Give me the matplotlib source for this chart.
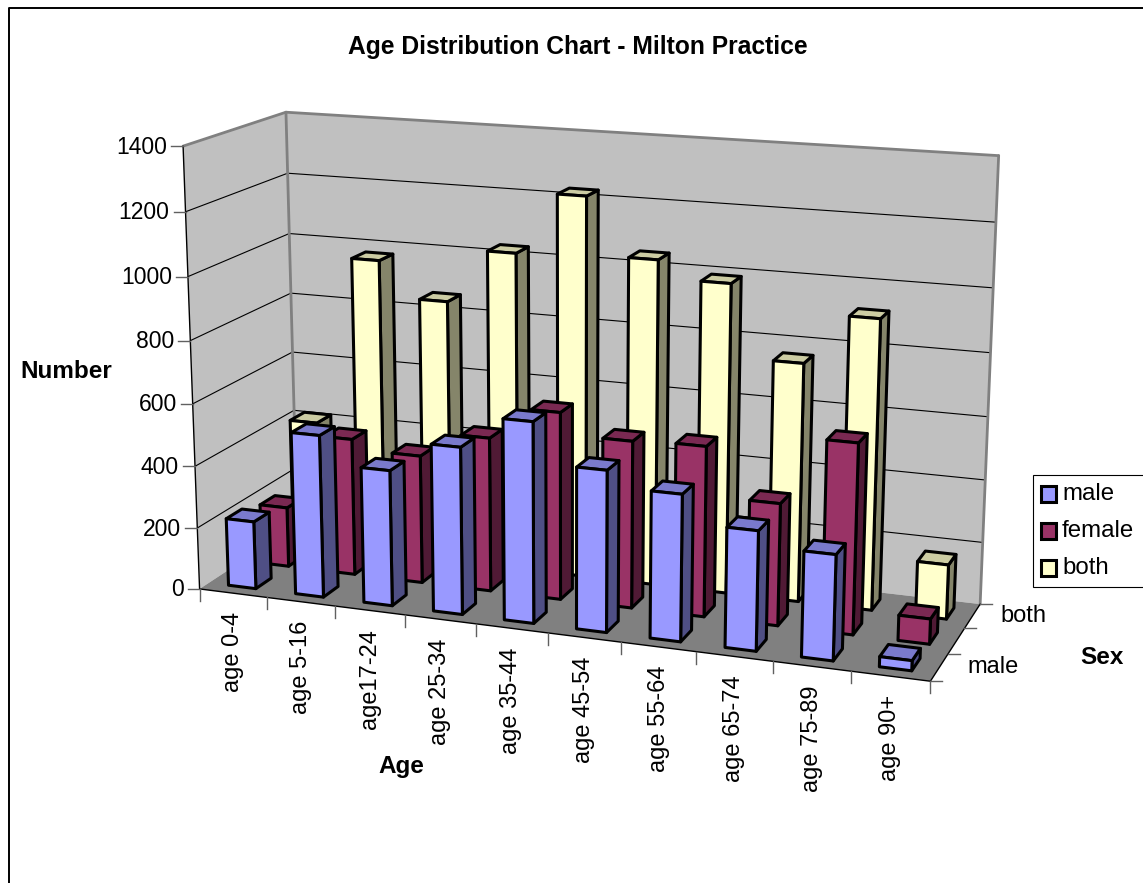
import numpy as np
import matplotlib
matplotlib.use('Agg')
import matplotlib.pyplot as plt
from matplotlib.patches import Polygon, Rectangle

plt.rcParams['font.family'] = ['Liberation Sans', 'DejaVu Sans']

ages = ['age 0-4', 'age 5-16', 'age17-24', 'age 25-34', 'age 35-44',
        'age 45-54', 'age 55-64', 'age 65-74', 'age 75-89', 'age 90+']
male = [219, 521, 433, 530, 632, 506, 457, 371, 325, 31]
female = [196, 446, 415, 496, 600, 532, 539, 385, 596, 79]
both = [416, 973, 858, 1031, 1227, 1045, 989, 760, 918, 173]
rows = ['male', 'female', 'both']
y_ticks = [0, 200, 400, 600, 800, 1000, 1200, 1400]

series = [male, female, both]
# front, side, top
colors = [('#9999FF', '#4F4F85', '#7A7ACC'),
          ('#993366', '#501A35', '#7A2952'),
          ('#FFFFCC', '#85856A', '#CCCCA3')]
y_max = 1400
bar_w = 0.41
bar_d = 0.46

# box corners (x, depth, height in 0-1) and where they land in the picture
box_3d = [(0, 0, 0), (1, 0, 0), (1, 1, 0), (0, 1, 0), (0, 0, 1), (0, 1, 1), (1, 1, 1),
          (0, 0, 1/7), (0, 0, 2/7), (0, 0, 3/7), (0, 0, 4/7), (0, 0, 5/7), (0, 0, 6/7),
          (0.1, 0, 0), (0.2, 0, 0), (0.3, 0, 0), (1, 1, 1/7), (1, 1, 2/7)]
box_px = [(200, 588), (930, 683), (980, 603), (296, 527), (182, 147), (287, 112), (999, 156),
          (198, 527), (195, 465), (193, 403), (190, 340), (188, 277), (185, 212),
          (267, 597), (335, 607), (405, 616), (983, 541), (985, 480)]


def fit_projection(pts, px):
    A, b = [], []
    for (x, y, z), (u, v) in zip(pts, px):
        A.append([x, y, z, 1, 0, 0, 0, 0, -u*x, -u*y, -u*z])
        A.append([0, 0, 0, 0, x, y, z, 1, -v*x, -v*y, -v*z])
        b += [u, v]
    m = np.linalg.lstsq(np.array(A, float), np.array(b, float), rcond=None)[0]
    return np.append(m, 1).reshape(3, 4)


P = fit_projection(box_3d, box_px)


def proj(x, y, z):
    u, v, w = P @ np.array([x, y, z, 1.0])
    return u / w, v / w


def face(ax, pts, color, edge='none', lw=0, zorder=1):
    ax.add_patch(Polygon([proj(*p) for p in pts], closed=True, facecolor=color,
                         edgecolor=edge, linewidth=lw, joinstyle='round', zorder=zorder))


def seg(ax, a, b, color='black', lw=0.8):
    pa, pb = proj(*a), proj(*b)
    ax.plot([pa[0], pb[0]], [pa[1], pb[1]], color=color, lw=lw, solid_capstyle='round')


fig = plt.figure(figsize=(11.43, 8.83), dpi=100)
ax = fig.add_axes([0, 0, 1, 1])
ax.set_xlim(0, 1143)
ax.set_ylim(883, 0)
ax.axis('off')

# chart area border
ax.plot([8.5, 8.5, 1143], [883, 7.5, 7.5], color='black', lw=1.4)

# walls and floor
face(ax, [(0, 0, 0), (0, 1, 0), (0, 1, 1), (0, 0, 1)], '#C0C0C0')
face(ax, [(0, 1, 0), (1, 1, 0), (1, 1, 1), (0, 1, 1)], '#C0C0C0')
face(ax, [(0, 0, 0), (1, 0, 0), (1, 1, 0), (0, 1, 0)], '#808080')

for t in y_ticks[1:-1]:
    z = t / y_max
    seg(ax, (0, 0, z), (0, 1, z))
    seg(ax, (0, 1, z), (1, 1, z))

seg(ax, (0, 0, 1), (0, 1, 1), '#808080', 2.0)
seg(ax, (0, 1, 1), (1, 1, 1), '#808080', 2.0)
seg(ax, (0, 1, 0), (0, 1, 1), '#808080', 2.0)
seg(ax, (1, 1, 0), (1, 1, 1), '#808080', 2.0)
seg(ax, (0, 0, 0), (0, 0, 1), 'black', 1.0)
seg(ax, (0, 0, 0), (1, 0, 0), 'black', 1.0)
seg(ax, (1, 0, 0), (1, 1, 0), 'black', 1.0)

# y ticks
for t in y_ticks:
    u, v = proj(0, 0, t / y_max)
    ax.plot([u - 12, u], [v, v], color='#606060', lw=1.0)
    ax.text(u - 16, v + 1, str(t), ha='right', va='center', fontsize=16.5)

# age ticks and labels
for i in range(len(ages) + 1):
    u, v = proj(i / len(ages), 0, 0)
    ax.plot([u, u], [v, v + 12], color='#606060', lw=1.0)
for i, name in enumerate(ages):
    u, v = proj((i + 0.5) / len(ages), 0, 0)
    ax.text(u, v + 19, name, rotation=90, ha='center', va='top', fontsize=17)

# depth ticks and labels
for j in range(len(rows) + 1):
    u, v = proj(1, j / len(rows), 0)
    ax.plot([u, u + 12], [v, v], color='#606060', lw=1.0)
u, v = proj(1, 0.5 / 3, 0)
ax.text(u + 28, v, 'male', ha='left', va='center', fontsize=17)
u, v = proj(1, 2.5 / 3, 0)
ax.text(u + 28, v, 'both', ha='left', va='center', fontsize=17)

# bars, back row first, left to right (above the grid lines)
for j in range(len(rows) - 1, -1, -1):
    front, side, top = colors[j]
    for i, val in enumerate(series[j]):
        x0 = (i + 0.5 - bar_w / 2) / len(ages)
        x1 = (i + 0.5 + bar_w / 2) / len(ages)
        y0 = (j + 0.5 - bar_d / 2) / len(rows)
        y1 = (j + 0.5 + bar_d / 2) / len(rows)
        z = val / y_max
        face(ax, [(x1, y0, 0), (x1, y1, 0), (x1, y1, z), (x1, y0, z)], side, 'black', 2.2, 3)
        face(ax, [(x0, y0, z), (x1, y0, z), (x1, y1, z), (x0, y1, z)], top, 'black', 2.2, 3)
        face(ax, [(x0, y0, 0), (x1, y0, 0), (x1, y0, z), (x0, y0, z)], front, 'black', 2.2, 3)

# legend
ax.add_patch(Rectangle((1032.5, 474.5), 130, 112, facecolor='white', edgecolor='black', lw=0.8))
for j, name in enumerate(rows):
    ax.add_patch(Rectangle((1040.5, 486 + j * 37), 15.5, 15.5, facecolor=colors[j][0],
                           edgecolor='black', lw=2.2))
    ax.text(1062, 493.5 + j * 37.5, name, ha='left', va='center', fontsize=17.3)

ax.text(578, 47, 'Age Distribution Chart - Milton Practice', ha='center', va='center',
        fontsize=17.7, fontweight='bold')
ax.text(66, 371, 'Number', ha='center', va='center', fontsize=17.5, fontweight='bold')
ax.text(401, 767, 'Age', ha='center', va='center', fontsize=17.5, fontweight='bold')
ax.text(1102, 657, 'Sex', ha='center', va='center', fontsize=17.5, fontweight='bold')

fig.savefig('out.png', dpi=100)
